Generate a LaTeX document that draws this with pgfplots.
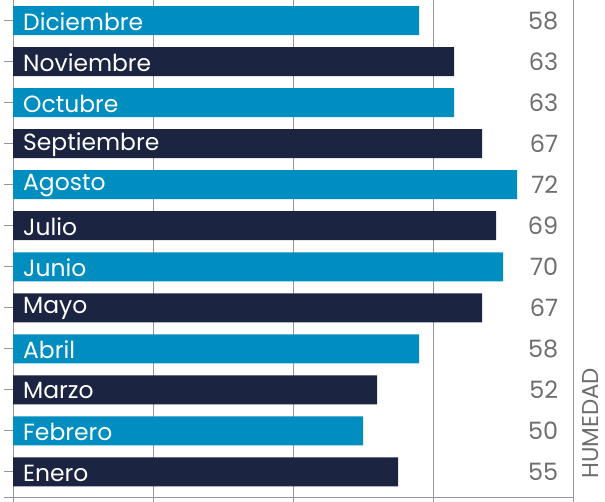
\documentclass[border=0pt]{standalone}
\usepackage{pgfplots}
\pgfplotsset{compat=1.18}
\usepackage{fontspec}
\setmainfont{Poppins}
\definecolor{teal1}{RGB}{0,142,192}
\definecolor{navy1}{RGB}{27,36,64}
\definecolor{gridgray}{RGB}{150,150,150}
\definecolor{txtgray}{RGB}{110,110,110}
\begin{document}
\begin{tikzpicture}
\begin{axis}[
  at={(0,0)}, anchor=south west,
  scale only axis,
  width=560bp, height=497bp,
  xmin=0, xmax=80, ymin=-0.61, ymax=11.5,
  axis x line*=bottom, axis y line*=left,
  axis line style={gridgray, line width=1pt},
  xtick={0,20,40,60,80}, xticklabels={},
  ytick={-0.61,0,1,2,3,4,5,6,7,8,9,10,11}, yticklabels={},
  tick align=outside,
  major tick length=9bp,
  tick style={gridgray, line width=1pt},
  xmajorgrids, grid style={gridgray, line width=1pt},
  clip=false,
]
% navy bars
\addplot[xbar, bar width=29bp, bar shift=0pt, fill=navy1, draw=none] coordinates {
 (55,0) (52,2) (67,4) (69,6) (67,8) (63,10)};
% teal bars
\addplot[xbar, bar width=29bp, bar shift=0pt, fill=teal1, draw=none] coordinates {
 (50,1) (58,3) (70,5) (72,7) (63,9) (58,11)};
% month labels
\addplot[draw=none, mark=none, nodes near coords, point meta=explicit symbolic,
  every node near coord/.style={anchor=west, inner sep=0pt, xshift=10bp, yshift=-1bp, text=white, font=\fontsize{23.5}{26}\selectfont}]
 coordinates {
 (0,0) [Enero] (0,1) [Febrero] (0,2) [Marzo] (0,3) [Abril] (0,4) [Mayo] (0,5) [Junio]
 (0,6) [Julio] (0,7) [Agosto] (0,8) [Septiembre] (0,9) [Octubre] (0,10) [Noviembre] (0,11) [Diciembre]};
% value labels
\addplot[draw=none, mark=none, nodes near coords, point meta=explicit symbolic,
  every node near coord/.style={anchor=east, inner sep=0pt, text=txtgray, font=\fontsize{24}{26}\selectfont}]
 coordinates {
 (77.9,0) [55] (77.9,1) [50] (77.9,2) [52] (77.9,3) [58] (77.9,4) [67] (77.9,5) [70]
 (77.9,6) [69] (77.9,7) [72] (77.9,8) [67] (77.9,9) [63] (77.9,10) [63] (77.9,11) [58]};
\node[rotate=90, text=txtgray, font=\fontsize{23}{25}\selectfont, inner sep=0pt] at (axis cs:82.5,1.19) {HUMEDAD};
\end{axis}
\pgfresetboundingbox
\path[use as bounding box] (-13bp,-5bp) rectangle (592bp,497bp);
\end{tikzpicture}
\end{document}
